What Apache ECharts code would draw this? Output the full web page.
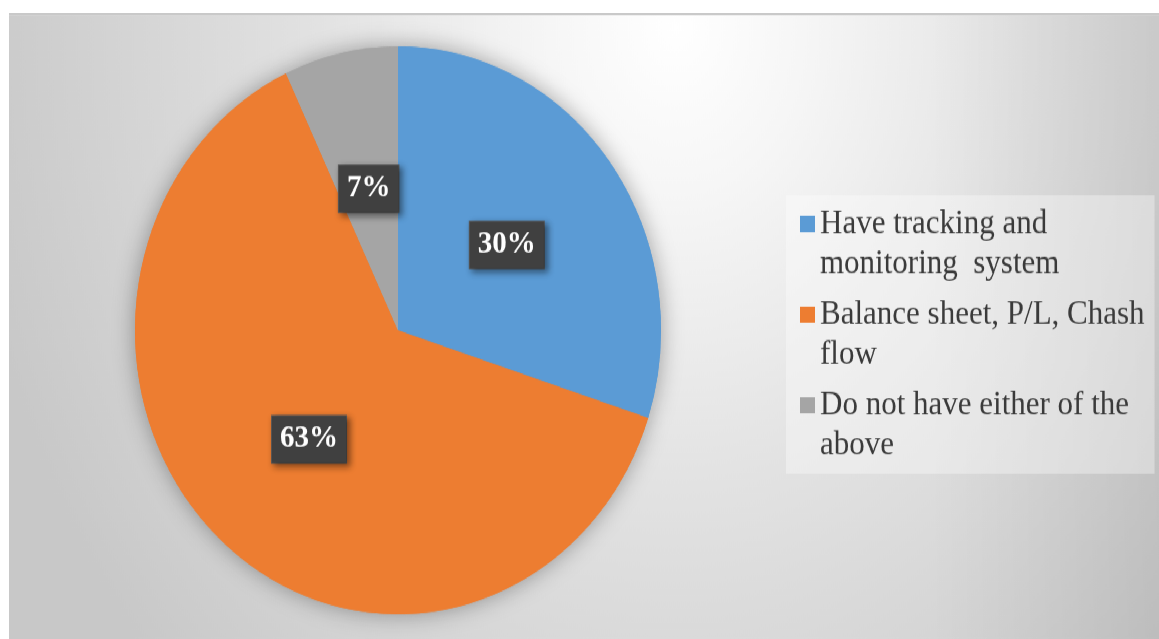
<!DOCTYPE html>
<html>
<head>
<meta charset="utf-8">
<script src="https://cdn.jsdelivr.net/npm/echarts@6/dist/echarts.min.js"></script>
<style>
  html, body { margin: 0; padding: 0; background: #ffffff; width: 1159px; height: 639px; overflow: hidden; }
  #wrap {
    position: absolute; left: 9px; top: 13px; width: 1150px; height: 580px;
    transform: scaleY(1.0793); transform-origin: 0 0;
    border-top: 2px solid #c9c9c9; box-sizing: border-box;
    background:
      linear-gradient(to right, rgba(0,0,0,0) 80%, rgba(0,0,0,0.07) 100%),
      radial-gradient(ellipse 720px 860px at 58% 2%, #ffffff 0%, #f6f6f6 18%, #e2e2e2 50%, #c8c8c8 100%);
  }
  #chart { position: absolute; left: 0; top: 0; width: 1150px; height: 578px; }
</style>
</head>
<body>
<div id="wrap"><div id="chart"></div></div>
<script>
const categories = [
  'Have tracking and\nmonitoring  system',
  'Balance sheet, P/L, Chash\nflow',
  'Do not have either of the\nabove'
];
const values = [30, 63, 7];
const colors = ['#5b9bd5', '#ed7d31', '#a5a5a5'];

const pieData = categories.map((name, i) => ({ name: name, value: values[i], itemStyle: { color: colors[i] } }));

const chart = echarts.init(document.getElementById('chart'), null, { renderer: 'canvas' });
const center = [389, 292];
const radius = 263;

chart.setOption({
  backgroundColor: 'transparent',
  animation: false,
  legend: {
    orient: 'vertical',
    left: 777,
    top: 167,
    padding: [8, 10, 8, 14],
    backgroundColor: 'rgba(255,255,255,0.35)',
    itemWidth: 15,
    itemHeight: 74,
    itemGap: 10,
    icon: 'path://M0,11 L15,11 L15,26 L0,26 Z M0,0 L0.01,0 L0.01,0.01 Z M0,74 L0.01,74 L0.01,73.99 Z',
    data: categories,
    textStyle: {
      fontFamily: 'Liberation Serif',
      fontSize: 31,
      lineHeight: 37,
      color: '#3a3a3a'
    },
    selectedMode: false
  },
  series: [
    {
      type: 'pie',
      name: 'main',
      z: 3,
      center: center,
      radius: radius,
      startAngle: 90,
      clockwise: true,
      silent: true,
      data: pieData,
      itemStyle: { borderWidth: 0 },
      label: {
        show: true,
        position: 'inside',
        formatter: '{c}%',
        fontFamily: 'Liberation Serif',
        fontWeight: 'bold',
        fontSize: 29,
        lineHeight: 29,
        color: '#ffffff',
        backgroundColor: '#404040',
        borderColor: '#5a5a5a',
        borderWidth: 1,
        padding: [7, 8, 7, 8],
        shadowBlur: 6,
        shadowOffsetX: 3,
        shadowOffsetY: 3,
        shadowColor: 'rgba(0,0,0,0.45)'
      },
      labelLine: { show: false }
    },
    {
      type: 'pie',
      name: 'shadow',
      z: 1,
      center: center,
      radius: radius,
      startAngle: 90,
      clockwise: true,
      silent: true,
      data: pieData,
      itemStyle: {
        shadowBlur: 22,
        shadowColor: 'rgba(0,0,0,0.35)'
      },
      label: { show: false },
      labelLine: { show: false }
    }
  ]
});
</script>
</body>
</html>
